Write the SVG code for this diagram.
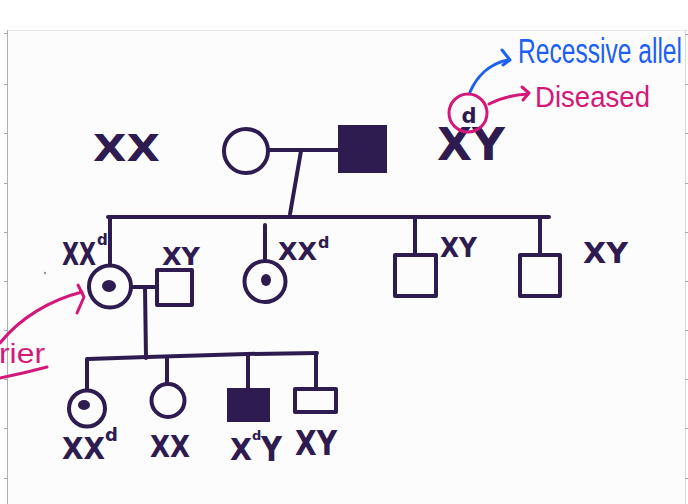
<svg xmlns="http://www.w3.org/2000/svg" width="688" height="504" viewBox="0 0 688 504">
  <style>
    .ink { fill: none; stroke: #2e1b50; stroke-width: 4; stroke-linecap: round; stroke-linejoin: round; }
    .solid { fill: #2e1b50; }
    .dot { fill: #2e1b50; }
    .geno { font-family: "DejaVu Sans", "Liberation Sans", sans-serif; font-weight: bold; fill: #2e1b50; }
    .blue { fill: none; stroke: #1d5ff5; stroke-width: 3; stroke-linecap: round; stroke-linejoin: round; }
    .pink { fill: none; stroke: #d4187a; stroke-width: 3; stroke-linecap: round; stroke-linejoin: round; }
    .note { font-family: "Liberation Sans", "DejaVu Sans", sans-serif; }
    .tick { stroke: #a8a8a8; stroke-width: 1; }
  </style>

  <!-- page -->
  <rect x="0" y="0" width="688" height="504" fill="#ffffff"/>
  <rect x="7.5" y="30.5" width="678" height="474" fill="#fcfcfc" stroke="none"/>
  <line x1="7.5" y1="30.5" x2="688" y2="30.5" stroke="#e4e4e4" stroke-width="1"/>
  <line x1="7.5" y1="30" x2="7.5" y2="504" stroke="#b0b0b0" stroke-width="1"/>
  <line x1="685.5" y1="30" x2="685.5" y2="504" stroke="#d8d8d8" stroke-width="1"/>
  <g id="ticks">
    <line class="tick" x1="4" y1="33.5" x2="8" y2="33.5"/>
    <line class="tick" x1="4" y1="84.5" x2="8" y2="84.5"/>
    <line class="tick" x1="4" y1="133.5" x2="8" y2="133.5"/>
    <line class="tick" x1="4" y1="183.5" x2="8" y2="183.5"/>
    <line class="tick" x1="4" y1="232.5" x2="8" y2="232.5"/>
    <line class="tick" x1="4" y1="281.5" x2="8" y2="281.5"/>
    <line class="tick" x1="4" y1="330.5" x2="8" y2="330.5"/>
    <line class="tick" x1="4" y1="379.5" x2="8" y2="379.5"/>
    <line class="tick" x1="4" y1="428.5" x2="8" y2="428.5"/>
    <line class="tick" x1="4" y1="478.5" x2="8" y2="478.5"/>
    <line class="tick" x1="685" y1="34.5" x2="688" y2="34.5"/>
    <line class="tick" x1="685" y1="84.5" x2="688" y2="84.5"/>
    <line class="tick" x1="685" y1="133.5" x2="688" y2="133.5"/>
    <line class="tick" x1="685" y1="183.5" x2="688" y2="183.5"/>
    <line class="tick" x1="685" y1="232.5" x2="688" y2="232.5"/>
    <line class="tick" x1="685" y1="281.5" x2="688" y2="281.5"/>
    <line class="tick" x1="685" y1="330.5" x2="688" y2="330.5"/>
    <line class="tick" x1="685" y1="379.5" x2="688" y2="379.5"/>
    <line class="tick" x1="685" y1="428.5" x2="688" y2="428.5"/>
    <line class="tick" x1="685" y1="478.5" x2="688" y2="478.5"/>
  </g>
  <circle cx="45" cy="273" r="1.2" fill="#9a8fa8"/>

  <!-- connectors -->
  <g id="connectors" class="ink">
    <!-- generation I couple and descent -->
    <line x1="268" y1="150" x2="340" y2="150"/>
    <path d="M301,151 L290,214"/>
    <!-- generation II sibship -->
    <line x1="108" y1="217" x2="549" y2="217"/>
    <line x1="110" y1="217" x2="110" y2="264"/>
    <line x1="265" y1="225" x2="265" y2="259"/>
    <line x1="415" y1="217" x2="415" y2="254"/>
    <line x1="540" y1="217" x2="540" y2="254"/>
    <!-- generation II couple and descent -->
    <line x1="132" y1="287" x2="157" y2="287"/>
    <line x1="145" y1="287" x2="146" y2="358"/>
    <!-- generation III sibship -->
    <path d="M88,359 L147,357 L247,354 L317,353"/>
    <line x1="87" y1="359" x2="87" y2="389"/>
    <line x1="167" y1="357" x2="167" y2="383"/>
    <line x1="248" y1="354" x2="248" y2="388"/>
    <line x1="316" y1="353" x2="316" y2="388"/>
  </g>

  <!-- generation I -->
  <g id="gen1-mother">
    <circle class="ink" cx="246" cy="151" r="22"/>
    <text class="geno" x="93" y="161" font-size="37" textLength="67" lengthAdjust="spacingAndGlyphs">XX</text>
  </g>
  <g id="gen1-father">
    <rect class="solid" x="338" y="125" width="49" height="48"/>
    <text class="geno" x="437" y="160" font-size="44" textLength="68" lengthAdjust="spacingAndGlyphs">XY</text>
    <text class="geno" x="469" y="123" font-size="21" text-anchor="middle">d</text>
  </g>

  <!-- generation II -->
  <g id="gen2-carrier-daughter">
    <circle class="ink" cx="110" cy="286.5" r="21"/>
    <ellipse class="dot" cx="109" cy="286" rx="7" ry="6"/>
    <text class="geno" x="62" y="265" font-size="32" textLength="34" lengthAdjust="spacingAndGlyphs">XX</text>
    <text class="geno" x="97" y="245" font-size="15">d</text>
  </g>
  <g id="gen2-son-in-law">
    <rect class="ink" x="157" y="270" width="35" height="35"/>
    <text class="geno" x="162" y="265" font-size="24" textLength="38" lengthAdjust="spacingAndGlyphs">XY</text>
  </g>
  <g id="gen2-daughter">
    <circle class="ink" cx="265" cy="281.5" r="20.5"/>
    <ellipse class="dot" cx="266" cy="280" rx="5" ry="6"/>
    <text class="geno" x="278" y="260" font-size="25" textLength="39" lengthAdjust="spacingAndGlyphs">XX</text>
    <text class="geno" x="318" y="248" font-size="16">d</text>
  </g>
  <g id="gen2-son-1">
    <rect class="ink" x="395" y="255" width="41" height="41"/>
    <text class="geno" x="440" y="257" font-size="27" textLength="37" lengthAdjust="spacingAndGlyphs">XY</text>
  </g>
  <g id="gen2-son-2">
    <rect class="ink" x="520" y="255" width="40" height="41"/>
    <text class="geno" x="583" y="263" font-size="29" textLength="45" lengthAdjust="spacingAndGlyphs">XY</text>
  </g>

  <!-- generation III -->
  <g id="gen3-carrier-daughter">
    <circle class="ink" cx="87" cy="408.5" r="18"/>
    <ellipse class="dot" cx="84" cy="405" rx="6" ry="5"/>
    <text class="geno" x="62" y="459" font-size="30" textLength="43" lengthAdjust="spacingAndGlyphs">XX</text>
    <text class="geno" x="105" y="441" font-size="18">d</text>
  </g>
  <g id="gen3-daughter">
    <circle class="ink" cx="168" cy="400.5" r="16.5"/>
    <text class="geno" x="150" y="457" font-size="30" textLength="40" lengthAdjust="spacingAndGlyphs">XX</text>
  </g>
  <g id="gen3-affected-son">
    <rect class="solid" x="227" y="388" width="43" height="34"/>
    <text class="geno" x="230" y="460" font-size="31" textLength="22" lengthAdjust="spacingAndGlyphs">X</text>
    <text class="geno" x="252" y="440" font-size="13">d</text>
    <text class="geno" x="261" y="461" font-size="33" textLength="21" lengthAdjust="spacingAndGlyphs">Y</text>
  </g>
  <g id="gen3-son">
    <rect class="ink" x="295" y="389" width="41" height="23"/>
    <text class="geno" x="295" y="455" font-size="34" textLength="42" lengthAdjust="spacingAndGlyphs">XY</text>
  </g>

  <!-- annotations -->
  <g id="note-recessive">
    <path class="blue" d="M470,92 C476,78 488,64 508,60"/>
    <path class="blue" d="M502,50 L510,60 L503,65"/>
    <text class="note" transform="translate(518,63) scale(1,1.45)" x="0" y="0" font-size="24.5" fill="#1d5ff5" textLength="164" lengthAdjust="spacingAndGlyphs">Recessive allel</text>
  </g>
  <g id="note-diseased">
    <ellipse class="pink" cx="468" cy="113" rx="19" ry="19"/>
    <path class="pink" d="M489,104 C500,98 512,95 528,94"/>
    <path class="pink" d="M522,87 L529,93 L523,100"/>
    <text class="note" x="535" y="107" font-size="30" fill="#d4187a" textLength="115" lengthAdjust="spacingAndGlyphs">Diseased</text>
  </g>
  <g id="note-carrier">
    <path class="pink" d="M0,343 C20,318 50,300 82,292"/>
    <path class="pink" d="M78,285 L84,297 L77,313"/>
    <text class="note" x="-1" y="363" font-size="27" fill="#d4187a" textLength="46" lengthAdjust="spacingAndGlyphs">rier</text>
    <path class="pink" d="M0,378 Q25,373 47,367"/>
  </g>
</svg>
